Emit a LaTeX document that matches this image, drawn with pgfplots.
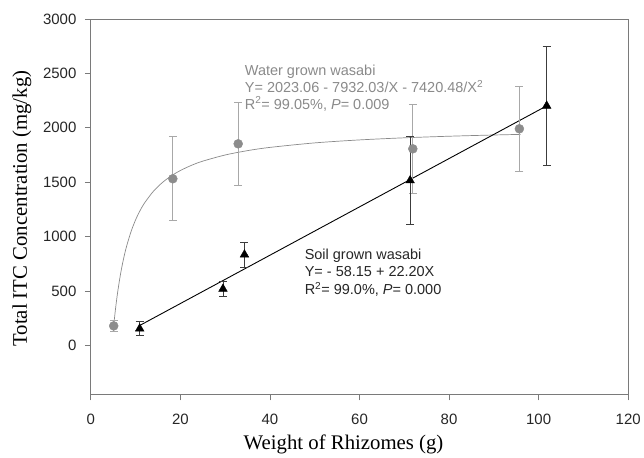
\documentclass[border=0pt]{standalone}
\usepackage{fontspec}
\setmainfont{Liberation Serif}
\newfontfamily\arial{Liberation Sans}
\usepackage{pgfplots}
\pgfplotsset{compat=1.18}
\definecolor{framegray}{HTML}{7A7A7A}
\definecolor{ptgray}{HTML}{8C8C8C}
\definecolor{errgray}{HTML}{A8A8A8}
\definecolor{curvegray}{HTML}{8A8A8A}
\definecolor{txtgray}{HTML}{8A8A8A}
\definecolor{soilerr}{HTML}{3C3C3C}

\begin{document}
\begin{tikzpicture}
\begin{axis}[
  scale only axis, width=538pt, height=376pt,
  xmin=0, xmax=120, ymin=-450, ymax=3000,
  xtick={0,20,...,120}, ytick={0,500,...,3000},
  axis line style={framegray, line width=0.8pt},
  tick style={framegray, line width=0.8pt},
  tick align=outside, major tick length=6pt,
  xtick pos=bottom, ytick pos=left,
  /pgf/number format/assume math mode=true,
  /pgf/number format/1000 sep={},
  tick label style={font=\arial\fontsize{15}{17}\selectfont, text=black!85},
  yticklabel style={xshift=-5pt},
  xticklabel style={yshift=-10pt},
  xlabel={Weight of Rhizomes (g)},
  ylabel={Total ITC Concentration (mg/kg)},
  label style={font=\fontsize{20.8}{23}\selectfont},
  xlabel style={at={(axis description cs:0.4703,-0.1463)}, anchor=base},
  ylabel style={at={(axis description cs:-0.119,0.495)}, anchor=base},
  clip=false,
]
% water grown: fitted curve
\addplot[curvegray, line width=0.7pt, smooth] coordinates {
  (5.1,182.5) (5.3,262.3) (5.5,335.6) (5.75,419.2) (6,494.9) (6.5,627.1)
  (7,738.5) (7.5,833.6) (8,915.7) (9,1050.1) (10,1155.7) (11,1240.6)
  (12,1310.5) (14,1418.6) (16,1498.3) (18,1559.5) (20,1607.9) (22.5,1655.9)
  (25,1693.9) (30,1750.4) (35,1790.4) (40,1820.1) (50,1861.5) (60,1888.8)
  (70,1908.2) (80,1922.7) (90,1934.0) (96,1939.6)};
% soil grown: regression line
\addplot[black, line width=0.9pt] coordinates {(11,186) (102,2206)};
% water grown data
\addplot[only marks, mark=*, mark size=4.5pt, ptgray,
  error bars/.cd, y dir=both, y explicit,
  error bar style={errgray, line width=0.7pt},
  error mark options={rotate=90, mark size=4pt, errgray, line width=0.7pt}]
  coordinates {
  (5.1,180) +- (0,50)
  (18.3,1532) +- (0,385)
  (32.9,1853) +- (0,380)
  (71.9,1807) +- (0,413)
  (95.7,1991) +- (0,394)};
% soil grown data
\addplot[only marks, mark=triangle*, mark size=5pt, black,
  error bars/.cd, y dir=both, y explicit,
  error bar style={soilerr, line width=0.8pt},
  error mark options={rotate=90, mark size=4pt, soilerr, line width=0.8pt}]
  coordinates {
  (10.9,155) +- (0,65)
  (29.5,520) +- (0,73)
  (34.3,835) +- (0,115)
  (71.3,1516) +- (0,405)
  (101.8,2202) +- (0,550)};

\tikzset{ann/.style={anchor=base west, inner sep=0pt, font=\arial\fontsize{14.5}{16}\selectfont}}
\node[ann, text=txtgray] at (axis cs:34.35,2477) {Water grown wasabi};
\node[ann, text=txtgray] at (axis cs:34.35,2324) {Y= 2023.06 - 7932.03/X - 7420.48/X\textsuperscript{2}};
\node[ann, text=txtgray] at (axis cs:34.35,2171) {R\textsuperscript{2}= 99.05\%, \textit{P}= 0.009};
\node[ann, text=black!85] at (axis cs:47.73,789) {Soil grown wasabi};
\node[ann, text=black!85] at (axis cs:47.73,630) {Y= - 58.15 + 22.20X};
\node[ann, text=black!85] at (axis cs:47.73,468) {R\textsuperscript{2}= 99.0\%, \textit{P}= 0.000};
\end{axis}
\path (current axis.south west) ++(-91pt,-58pt) rectangle ++(644pt,453pt);
\end{tikzpicture}
\end{document}
